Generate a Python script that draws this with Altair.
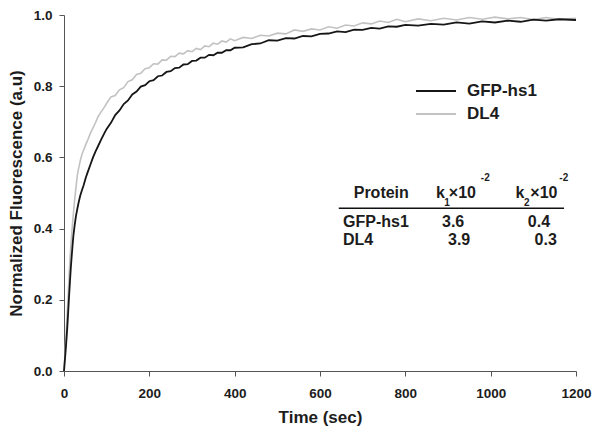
import altair as alt
import pandas as pd

# ---------------- data ----------------
time_s = [0, 2, 4, 6, 8, 10, 12, 14, 16, 18, 20, 22, 25, 28, 31, 34, 38, 42, 46, 51,
          56, 62, 68, 74, 80, 87, 95,
          100, 110, 120, 130, 140, 150, 160, 170, 180, 190, 200, 210, 220, 230, 240,
          250, 260, 270, 280, 290, 300, 310, 320, 330, 340, 350, 360, 370, 380, 390, 400,
          420, 440, 460, 480, 500, 520, 540, 560, 580, 600, 620, 640, 660, 680, 700,
          720, 740, 760, 780, 800,
          830, 860, 890, 920, 950, 980, 1010, 1040, 1070, 1100, 1130, 1160, 1200]

gfp_hs1 = [0.000, 0.030, 0.060, 0.092, 0.128, 0.170, 0.212, 0.252, 0.290, 0.322, 0.352,
           0.380, 0.410, 0.435, 0.454, 0.472, 0.492, 0.508, 0.522, 0.543, 0.560, 0.580,
           0.600, 0.617, 0.632, 0.650, 0.669,
           0.680, 0.697, 0.719, 0.732, 0.750, 0.760, 0.777, 0.785, 0.799, 0.803, 0.814,
           0.817, 0.828, 0.830, 0.840, 0.842, 0.851, 0.852, 0.861, 0.862, 0.871, 0.872,
           0.880, 0.880, 0.888, 0.887, 0.894, 0.894, 0.901, 0.901, 0.908,
           0.909, 0.918, 0.920, 0.929, 0.928, 0.935, 0.934, 0.941, 0.940, 0.947, 0.948,
           0.954, 0.952, 0.959, 0.958, 0.964, 0.962, 0.968, 0.967, 0.972,
           0.970, 0.975, 0.973, 0.979, 0.976, 0.982, 0.979, 0.984, 0.981, 0.987, 0.984,
           0.988, 0.986]

dl4 = [0.000, 0.040, 0.085, 0.130, 0.175, 0.220, 0.268, 0.315, 0.352, 0.385, 0.415,
       0.442, 0.482, 0.515, 0.548, 0.568, 0.590, 0.608, 0.621, 0.636, 0.650, 0.668,
       0.683, 0.698, 0.715, 0.728, 0.742,
       0.752, 0.770, 0.774, 0.790, 0.796, 0.813, 0.818, 0.833, 0.836, 0.849, 0.852,
       0.863, 0.862, 0.874, 0.873, 0.884, 0.883, 0.893, 0.891, 0.900, 0.897, 0.906,
       0.903, 0.913, 0.911, 0.921, 0.918, 0.927, 0.924, 0.933, 0.928,
       0.937, 0.934, 0.943, 0.941, 0.949, 0.947, 0.958, 0.954, 0.961, 0.958, 0.967,
       0.963, 0.972, 0.969, 0.978, 0.975, 0.983, 0.979, 0.988, 0.981,
       0.989, 0.984, 0.991, 0.986, 0.993, 0.988, 0.994, 0.989, 0.993, 0.987, 0.993,
       0.988, 0.991]

series_names = ["GFP-hs1", "DL4"]
x_ticks = [0, 200, 400, 600, 800, 1000, 1200]
y_ticks = [0.0, 0.2, 0.4, 0.6, 0.8, 1.0]

# table content
table_header = ["Protein", "k", "1", "×10", "-2", "k", "2", "×10", "-2"]
table_proteins = ["GFP-hs1", "DL4"]
table_k1 = ["3.6", "3.9"]
table_k2 = ["0.4", "0.3"]

# ---------------- layout / style (kept apart from data) ----------------
FONT = "Liberation Sans"
TXT = "#1c1c1c"
series_colors = ["#161616", "#c2c2c2"]

# annotation anchor positions, in data units (time, fluorescence)
hdr_pos = [(679, 0.4853, 16), (872, 0.4853, 16), (891, 0.463, 10), (902, 0.4853, 16),
           (977, 0.534, 10), (1058, 0.4853, 16), (1078, 0.463, 10), (1093, 0.4853, 16),
           (1161, 0.534, 10)]
row_v = [0.405, 0.3528]
col_t_protein = [654, 654]
col_t_k1 = [886, 900]
col_t_k2 = [1087, 1103]
rule_pos = (644, 1172, 0.4571)

n = len(time_s)
df = pd.DataFrame({
    "t": time_s * 2,
    "v": gfp_hs1 + dl4,
    "series": [series_names[0]] * n + [series_names[1]] * n,
})

txt_rows = []
for s, (tt, vv, fs) in zip(table_header, hdr_pos):
    txt_rows.append({"label": s, "t": tt, "v": vv, "fs": fs})
for i in range(2):
    txt_rows.append({"label": table_proteins[i], "t": col_t_protein[i], "v": row_v[i], "fs": 16})
    txt_rows.append({"label": table_k1[i], "t": col_t_k1[i], "v": row_v[i], "fs": 16})
    txt_rows.append({"label": table_k2[i], "t": col_t_k2[i], "v": row_v[i], "fs": 16})
txt_df = pd.DataFrame(txt_rows)
rule_df = pd.DataFrame({"t": [rule_pos[0]], "t2": [rule_pos[1]], "v": [rule_pos[2]]})

x_enc = alt.X("t:Q", scale=alt.Scale(domain=[0, 1200], nice=False, zero=False),
              axis=alt.Axis(values=x_ticks, format="d", title="Time (sec)",
                            labelPadding=10.5, titlePadding=9, labelFlush=False))
y_enc = alt.Y("v:Q", scale=alt.Scale(domain=[0, 1], nice=False),
              axis=alt.Axis(values=y_ticks, format=".1f",
                            title="Normalized Fluorescence (a.u)",
                            labelPadding=7, titlePadding=8, labelFlush=False))
color = alt.Color("series:N",
                  scale=alt.Scale(domain=series_names, range=series_colors),
                  legend=alt.Legend(orient="none", legendX=361, legendY=65, title=None,
                                    symbolType="M-2,0H2", symbolSize=400,
                                    symbolStrokeWidth=2, labelFont=FONT,
                                    labelFontWeight="bold", labelFontSize=17,
                                    labelColor=TXT, labelOffset=20, padding=0,
                                    rowPadding=4))

gray = alt.Chart(df[df.series == "DL4"]).mark_line(strokeWidth=1.6).encode(
    x=x_enc, y=y_enc, color=color)
black = alt.Chart(df[df.series == "GFP-hs1"]).mark_line(strokeWidth=1.8).encode(
    x=x_enc, y=y_enc, color=color)
texts = alt.Chart(txt_df).mark_text(align="left", baseline="alphabetic", font=FONT,
                                    fontWeight="bold", color=TXT).encode(
    x=x_enc, y=y_enc, text="label:N", size=alt.Size("fs:Q", scale=None))
rule = alt.Chart(rule_df).mark_rule(color="#111111", strokeWidth=1.3).encode(
    x=x_enc, x2="t2:Q", y=y_enc)

chart = alt.layer(gray, black, rule, texts).properties(
    width=512, height=356,
    autosize=alt.AutoSizeParams(type="none"),
    padding={"left": 56, "top": 7, "right": 16, "bottom": 57},
).configure_view(stroke=None).configure_axis(
    labelFont=FONT, titleFont=FONT, labelFontWeight="bold", titleFontWeight="bold",
    labelFontSize=13.5, titleFontSize=17, labelColor=TXT, titleColor=TXT,
    domainColor="#555555", tickColor="#555555", grid=False, tickSize=5,
)

chart.save("out.html", embed_options={"renderer": "svg", "actions": False})
